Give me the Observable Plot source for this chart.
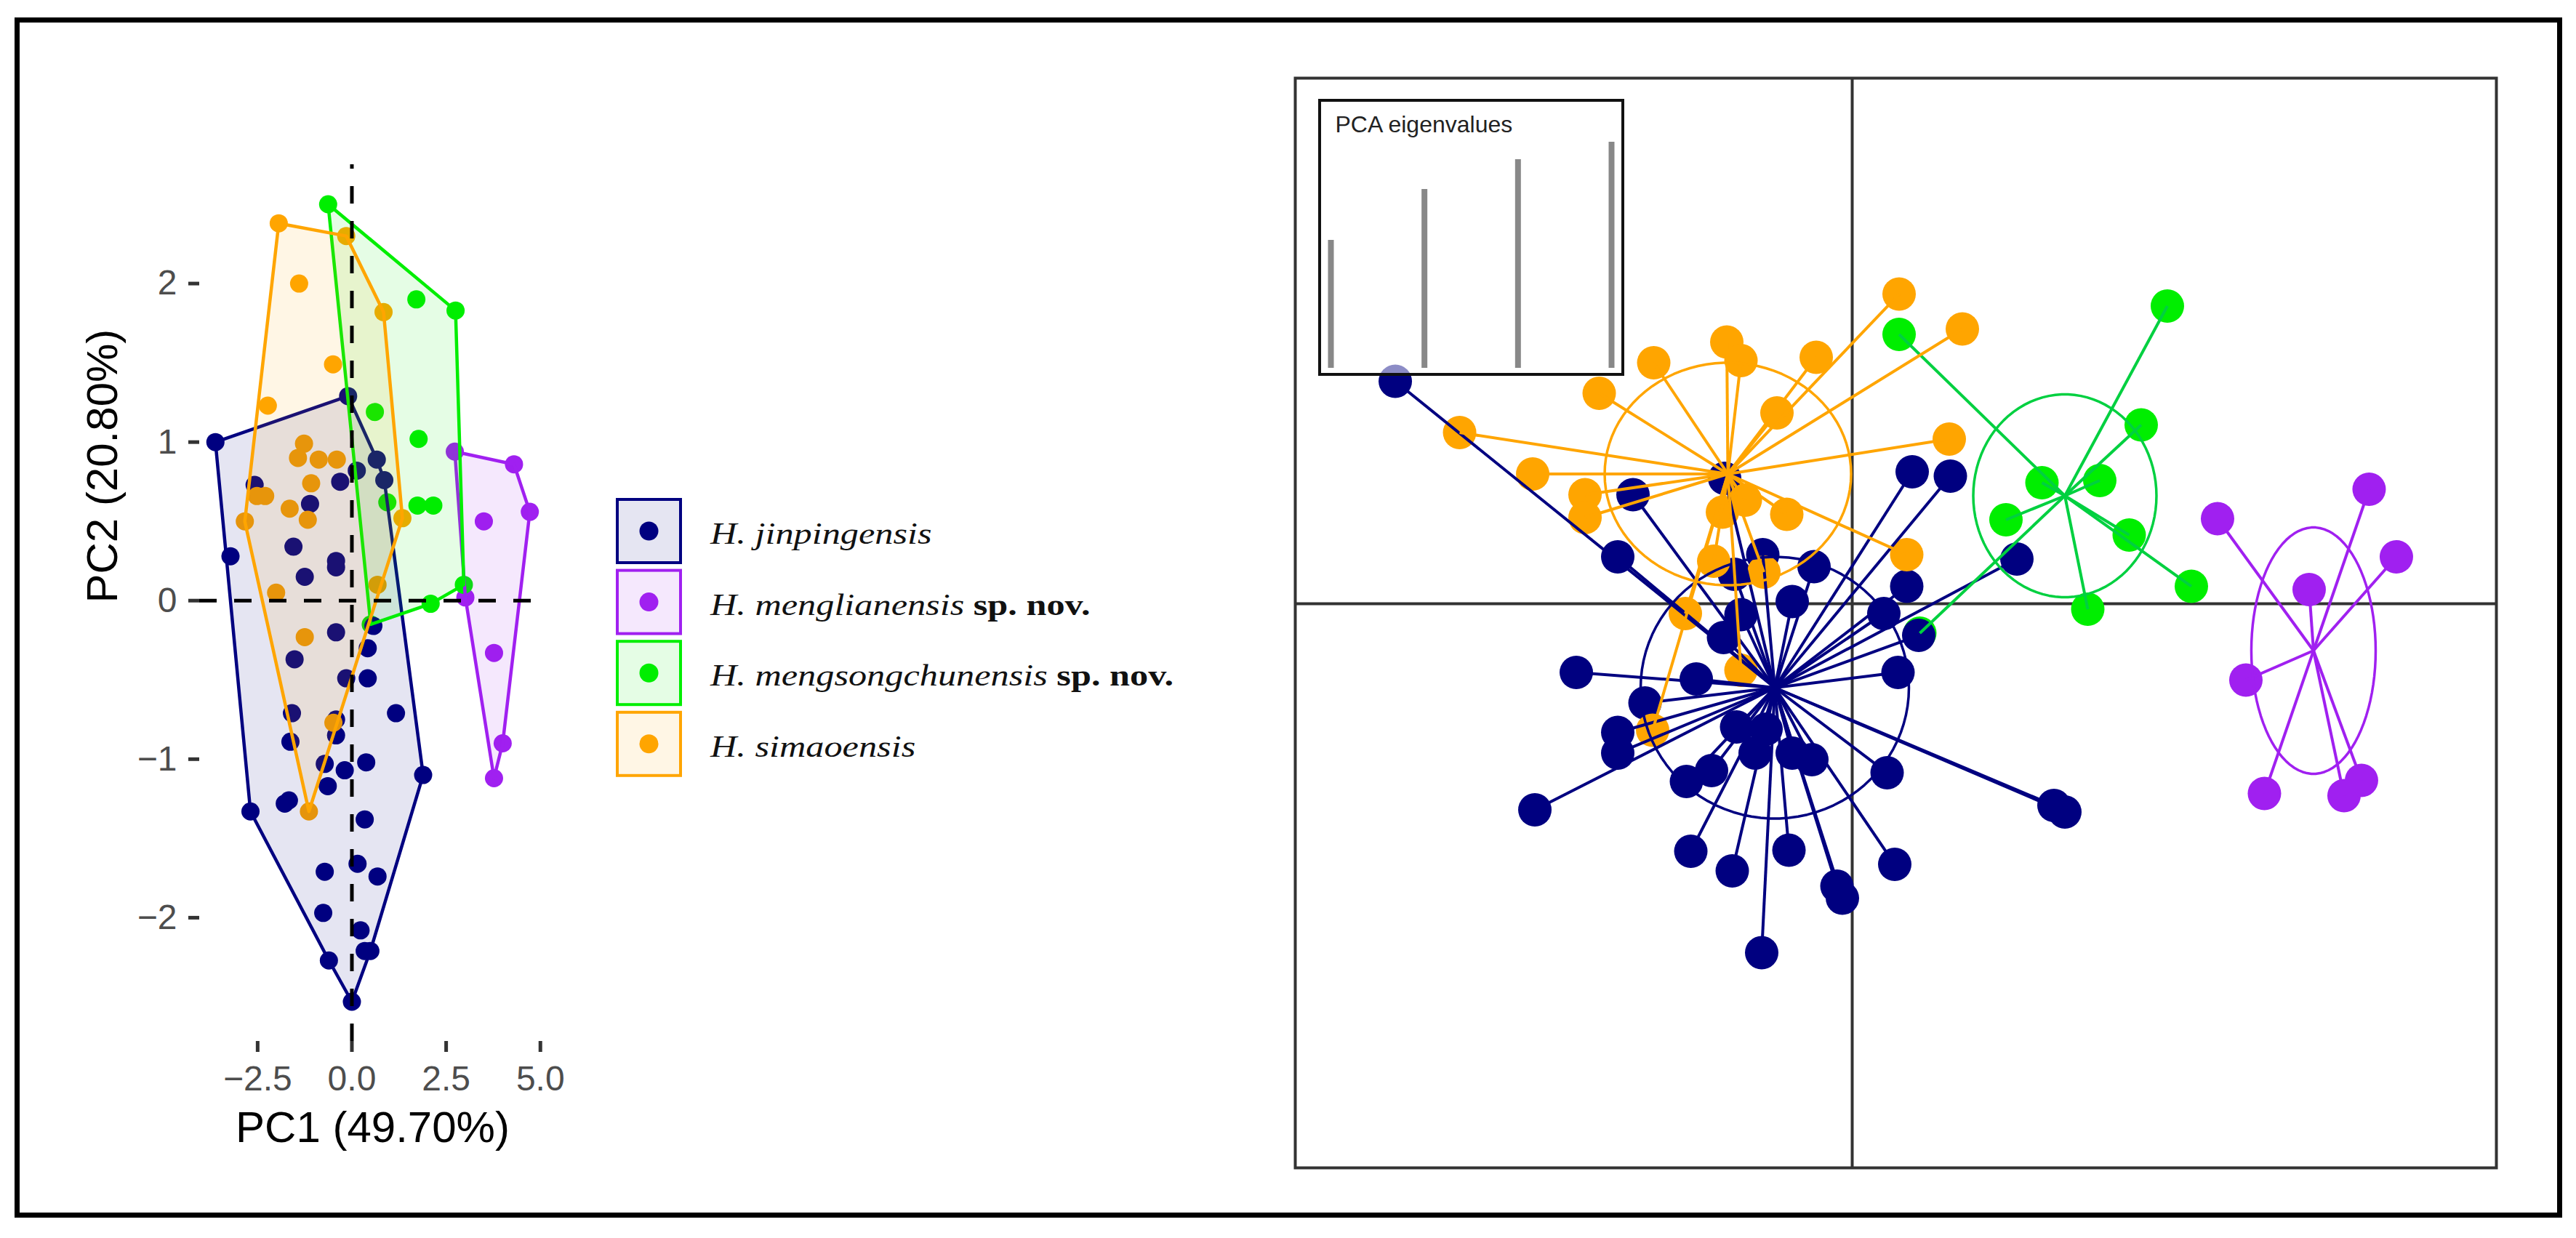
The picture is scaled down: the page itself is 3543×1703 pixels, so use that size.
<!DOCTYPE html>
<html>
<head>
<meta charset="utf-8">
<script src="https://cdn.jsdelivr.net/npm/d3@7"></script>
<script src="https://cdn.jsdelivr.net/npm/@observablehq/plot@0.6"></script>
<style>
  html, body { margin: 0; padding: 0; background: #fff; }
  #root { position: relative; width: 3543px; height: 1703px; overflow: hidden; background: #fff; }
  #root > svg, #root > div { position: absolute; }
</style>
</head>
<body>
<div id="root"></div>
<script>
// ---------- categories & colours ----------
const species = ["H. jinpingensis", "H. menglianensis", "H. mengsongchunensis", "H. simaoensis"];
const speciesNote = ["", "sp. nov.", "sp. nov.", ""];
const colors = ["#000080", "#A020F0", "#00EE00", "#FFA500"];
const lineColors = ["#000080", "#A020F0", "#00D040", "#FFA500"];

// ---------- left panel: PCA scores [PC1, PC2] ----------
const pcaJin = [[-3.62,1.00],[-0.10,1.29],[0.66,0.89],[0.86,0.76],[0.13,0.82],[-0.31,0.75],[-2.58,0.73],[-1.11,0.61],[-3.22,0.28],[-1.55,0.34],[-0.42,0.25],[-0.42,0.21],[-1.25,0.15],[-0.42,-0.20],[0.57,-0.16],[0.42,-0.30],[-1.52,-0.37],[-0.15,-0.49],[0.42,-0.49],[1.17,-0.71],[-1.59,-0.71],[-0.42,-0.75],[-0.42,-0.85],[-1.63,-0.89],[0.38,-1.02],[-0.72,-1.03],[-0.19,-1.07],[1.89,-1.10],[-0.64,-1.17],[-1.67,-1.26],[-1.78,-1.28],[-2.69,-1.33],[0.34,-1.38],[0.15,-1.66],[-0.72,-1.71],[0.68,-1.74],[-0.76,-1.97],[0.23,-2.08],[-0.61,-2.27],[0.34,-2.21],[0.49,-2.21],[0.00,-2.53]];
const pcaMeng = [[2.73,0.94],[4.30,0.86],[4.72,0.56],[3.50,0.50],[3.01,0.02],[3.77,-0.33],[4.00,-0.90],[3.77,-1.12]];
const pcaMengsong = [[-0.63,2.50],[1.71,1.90],[2.75,1.83],[0.61,1.19],[1.77,1.02],[0.94,0.62],[1.74,0.60],[2.16,0.60],[2.97,0.10],[2.09,-0.02],[0.50,-0.15]];
const pcaSim = [[-1.94,2.38],[-0.15,2.30],[-1.40,2.00],[0.84,1.82],[-0.50,1.49],[-2.23,1.23],[-1.27,0.99],[-1.43,0.90],[-0.88,0.89],[-0.40,0.89],[-1.08,0.74],[-2.52,0.66],[-2.30,0.66],[-1.65,0.58],[-1.17,0.51],[-2.84,0.50],[1.34,0.52],[0.68,0.10],[-2.01,0.05],[-1.25,-0.23],[-0.49,-0.77],[-1.14,-1.33]];
const pcaXTicks = [-2.5, 0, 2.5, 5];
const pcaYTicks = [-2, -1, 0, 1, 2];
const pcaXLabel = "PC1 (49.70%)";
const pcaYLabel = "PC2 (20.80%)";

// ---------- right panel: DAPC scores [LD1, LD2] ----------
const dapcJin = [[-4.19,2.04],[-2.01,1.00],[-2.15,0.43],[0.55,1.21],[0.90,1.17],[-0.35,0.34],[-0.55,0.02],[0.50,0.16],[0.29,-0.09],[0.61,-0.29],[0.42,-0.63],[-2.53,-0.63],[-1.43,-0.69],[-1.18,-0.31],[-1.02,-0.10],[-1.90,-0.91],[-2.15,-1.18],[-2.15,-1.37],[-2.91,-1.89],[-1.06,-1.13],[-0.79,-1.15],[-0.89,-1.37],[-0.55,-1.37],[-0.37,-1.43],[-1.29,-1.53],[-1.52,-1.63],[0.32,-1.55],[-1.48,-2.27],[-1.10,-2.45],[-0.58,-2.26],[0.39,-2.39],[-0.14,-2.59],[-0.09,-2.70],[-0.83,-3.20],[1.85,-1.85],[1.95,-1.91],[-0.82,0.45],[-1.08,0.27],[-1.17,1.15],[1.51,0.41]];
const dapcMeng = [[3.35,0.78],[4.74,1.05],[4.99,0.43],[4.19,0.13],[3.61,-0.70],[3.78,-1.74],[4.51,-1.76],[4.67,-1.62]];
const dapcMengsong = [[0.43,2.47],[2.89,2.73],[2.65,1.64],[1.74,1.11],[2.27,1.13],[1.41,0.77],[2.54,0.63],[3.11,0.16],[2.16,-0.05],[0.62,-0.27]];
const dapcSim = [[0.43,2.84],[-1.15,2.40],[-1.02,2.23],[-1.82,2.21],[-0.33,2.26],[-2.32,1.93],[-0.69,1.75],[-3.60,1.57],[-2.93,1.19],[-2.45,1.00],[-2.45,0.79],[-0.98,0.95],[-1.19,0.84],[-0.60,0.82],[-1.27,0.39],[-0.81,0.29],[0.50,0.45],[-1.53,-0.09],[-1.02,-0.61],[0.89,1.51],[1.01,2.52],[-1.83,-1.16]];
const dapcCx = [-0.71, 4.23, 1.95, -1.14];
const dapcCy = [-0.77, -0.43, 0.99, 1.19];
const ellRx = [1.23, 0.57, 0.84, 1.13];
const ellRy = [1.20, 1.13, 0.93, 1.02];
const eigenvalues = [17.6, 24.6, 28.7, 31.1];
const eigenTitle = "PCA eigenvalues";

// ---------- helpers ----------
const pcaGroups = [pcaJin, pcaMeng, pcaMengsong, pcaSim];
const dapcGroups = [dapcJin, dapcMeng, dapcMengsong, dapcSim];
const rows = (arr, g) => arr.map(([x, y]) => ({x, y, g}));
const minus = s => s.replace("-", "\u2212");

function hullMark(data, c) {
  const opts = {x: "x", y: "y", fill: c, fillOpacity: 0.1, stroke: c, strokeWidth: 4.5, strokeLinejoin: "round"};
  if (Plot.hull) return Plot.hull(data, opts);
  const h = d3.polygonHull(data.map(d => [d.x, d.y]));
  return Plot.line(h.concat([h[0]]).map(([x, y]) => ({x, y})), opts);
}
function ellipseRows(g) {
  return d3.range(0, 361, 4).map(a => {
    const t = a * Math.PI / 180;
    return {x: dapcCx[g] + ellRx[g] * Math.cos(t), y: dapcCy[g] + ellRy[g] * Math.sin(t)};
  });
}

const root = document.getElementById("root");
function place(el, left, top) {
  el.style.position = "absolute";
  el.style.left = left + "px";
  el.style.top = top + "px";
  el.style.maxWidth = "none";
  root.appendChild(el);
  return el;
}

// ---------- left: PCA with convex hulls ----------
const LX = [-4.04, 5.14], LY = [-2.78, 2.75];
const leftMarks = [];
for (const g of [1, 2, 0, 3]) leftMarks.push(Plot.dot(rows(pcaGroups[g], g), {x: "x", y: "y", r: 12.5, fill: colors[g]}));
for (const g of [0, 1, 2, 3]) leftMarks.push(hullMark(rows(pcaGroups[g], g), colors[g]));
leftMarks.push(
  Plot.ruleY([0], {x1: LX[0], x2: LX[1], stroke: "black", strokeWidth: 5, strokeDasharray: "24,24"}),
  Plot.ruleX([0], {y1: LY[0], y2: LY[1], stroke: "black", strokeWidth: 5, strokeDasharray: "24,24"}),
  Plot.axisX({ticks: pcaXTicks, tickFormat: d => minus(d.toFixed(1)), tickSize: 15, tickPadding: 18,
    fontSize: 48, stroke: "#333", fill: "#4d4d4d", strokeWidth: 5, label: null}),
  Plot.axisY({ticks: pcaYTicks, tickFormat: d => minus(String(d)), tickSize: 15, tickPadding: 16,
    fontSize: 48, stroke: "#333", fill: "#4d4d4d", strokeWidth: 5, label: null}),
  Plot.text([pcaXLabel], {frameAnchor: "bottom", dy: 138, lineAnchor: "bottom", fontSize: 60, fill: "black"}),
  Plot.text([pcaYLabel], {frameAnchor: "left", dx: -114, rotate: -90, lineAnchor: "bottom", fontSize: 60, fill: "black"})
);
const left = Plot.plot({
  width: 800, height: 1650,
  marginLeft: 274, marginRight: 50, marginTop: 226, marginBottom: 218,
  x: {domain: LX}, y: {domain: LY},
  style: {fontFamily: "'Liberation Sans', Arial, sans-serif", background: "transparent", overflow: "visible"},
  marks: leftMarks
});
place(left, 0, 0);

// ---------- legend ----------
const leg = d3.create("svg").attr("width", 800).attr("height", 450)
  .style("font-family", "'Liberation Serif', 'Times New Roman', serif");
species.forEach((s, i) => {
  const y0 = 35 + i * 97.6;
  leg.append("rect").attr("x", 29).attr("y", y0 + 2).attr("width", 87).attr("height", 87)
    .attr("fill", colors[i]).attr("fill-opacity", 0.1).attr("stroke", colors[i]).attr("stroke-width", 4);
  leg.append("circle").attr("cx", 72.5).attr("cy", y0 + 45.5).attr("r", 13).attr("fill", colors[i]);
  const t = leg.append("g").attr("transform", `translate(157,${y0 + 63}) scale(1.17,1)`)
    .append("text").attr("font-size", 43).attr("fill", "#111");
  t.append("tspan").attr("font-style", "italic").text(s);
  if (speciesNote[i]) t.append("tspan").attr("font-weight", "bold").text(" " + speciesNote[i]);
});
place(leg.node(), 820, 650);

// ---------- right: DAPC scatter ----------
const RX = [-5.107, 5.907], RY = [-5.173, 4.82];
const rightMarks = [
  Plot.ruleX([0], {stroke: "#333", strokeWidth: 4}),
  Plot.ruleY([0], {stroke: "#333", strokeWidth: 4})
];
for (const g of [2, 1, 0, 3]) rightMarks.push(Plot.dot(rows(dapcGroups[g], g), {x: "x", y: "y", r: 23, fill: colors[g]}));
for (const g of [0, 1, 2, 3]) {
  rightMarks.push(Plot.link(rows(dapcGroups[g], g), {x1: dapcCx[g], y1: dapcCy[g], x2: "x", y2: "y", stroke: lineColors[g], strokeWidth: 4}));
  rightMarks.push(Plot.line(ellipseRows(g), {x: "x", y: "y", stroke: lineColors[g], strokeWidth: 3.5}));
}
rightMarks.push(Plot.frame({stroke: "#333", strokeWidth: 4}));
const right = Plot.plot({
  width: 1660, height: 1507, margin: 4,
  x: {domain: RX, axis: null}, y: {domain: RY, axis: null},
  style: {background: "transparent"},
  marks: rightMarks
});
place(right, 1777, 103);

// ---------- inset: eigenvalues ----------
const inset = Plot.plot({
  width: 413, height: 373,
  marginLeft: 13, marginRight: 14, marginTop: 55, marginBottom: 7,
  x: {domain: [1, eigenvalues.length], axis: null},
  y: {domain: [0, d3.max(eigenvalues)], axis: null},
  style: {background: "rgba(255,255,255,0.55)", fontFamily: "'Liberation Sans', Arial, sans-serif"},
  marks: [
    Plot.ruleX(eigenvalues.map((v, i) => ({i: i + 1, v})), {x: "i", y1: 0, y2: "v", stroke: "#888", strokeWidth: 8}),
    Plot.text([eigenTitle], {frameAnchor: "top-left", dx: 6, dy: -14, lineAnchor: "bottom", textAnchor: "start", fontSize: 32, fill: "#222"})
  ]
});
inset.style.border = "4px solid #111";
inset.style.boxSizing = "content-box";
place(inset, 1813, 136);

// ---------- outer border ----------
const border = document.createElement("div");
border.style.cssText = "left:20px;top:24px;width:3490px;height:1637px;border:7px solid #000;background:transparent;pointer-events:none;";
place(border, 20, 24);
</script>
</body>
</html>
